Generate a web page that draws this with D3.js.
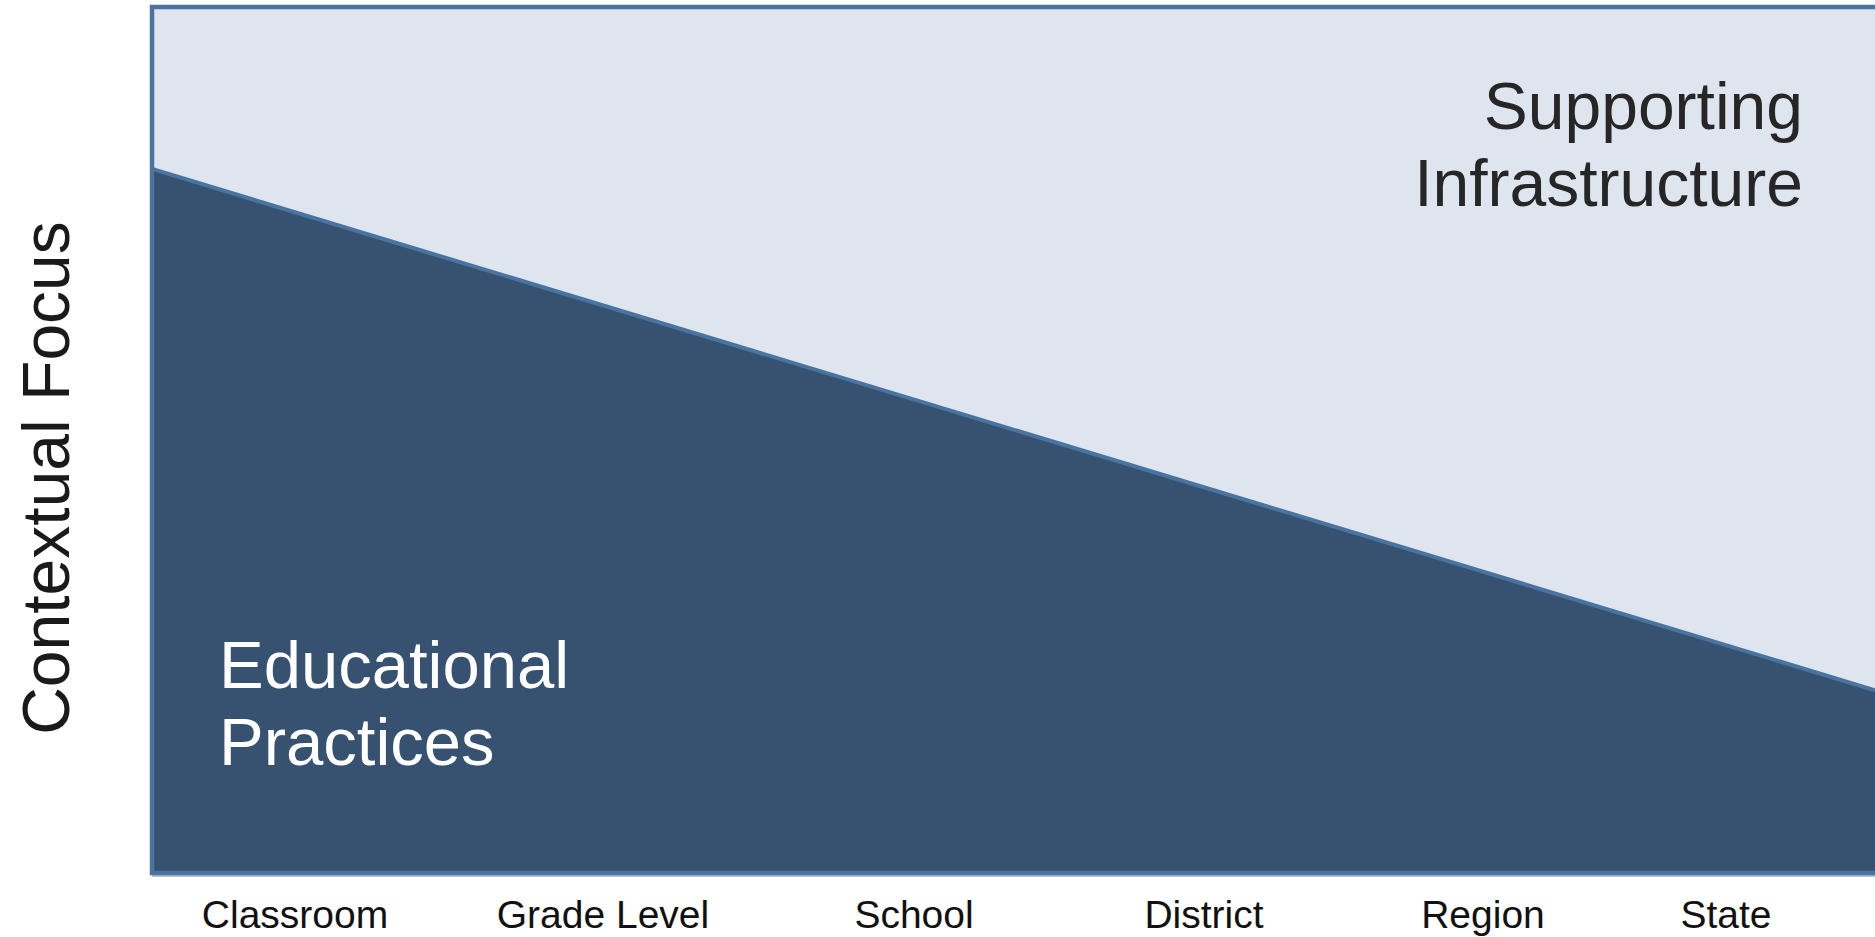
<!DOCTYPE html>
<html>
<head>
<meta charset="utf-8">
<script src="https://cdn.jsdelivr.net/npm/d3@7"></script>
<style>
  html, body { margin: 0; padding: 0; background: #fff; }
  svg { display: block; font-family: 'Liberation Sans', Arial, Helvetica, sans-serif; }
</style>
</head>
<body>
<div id="chart"></div>
<script>
// Levels of the system along the x axis
const levels = ['Classroom', 'Grade Level', 'School', 'District', 'Region', 'State'];

// Share of the contextual focus taken by educational practices,
// read at the left edge (0) and the right edge (1) of the visible plot
const boundaryPos = [0, 1];
const practicesShare = [0.813, 0.211];

const areaLabels = [
  { name: 'practices', lines: ['Educational', 'Practices'] },
  { name: 'infrastructure', lines: ['Supporting', 'Infrastructure'] },
];

const yLabel = 'Contextual Focus';

const width = 1875;
const height = 937;
const margin = { top: 7, right: 0, bottom: 64, left: 152 };

const lightFill = '#dfe5ee';
const darkFill = '#375270';
const edgeBlue = '#4a74a0';

const svg = d3.select('#chart')
  .append('svg')
  .attr('width', width)
  .attr('height', height);

const x = d3.scaleLinear()
  .domain([0, 1])
  .range([margin.left, width - margin.right]);

const y = d3.scaleLinear()
  .domain([0, 1])
  .range([height - margin.bottom, margin.top]);

// label centres are not evenly spaced in the original slide
const xLevel = d3.scaleOrdinal()
  .domain(levels)
  .range([295, 603, 914, 1204, 1483, 1726]);

const boundary = boundaryPos.map((p, i) => ({ pos: p, share: practicesShare[i] }));

// soft shadow under the plot
svg.append('line')
  .attr('x1', x(0))
  .attr('x2', x(1) + 10)
  .attr('y1', y(0) + 3)
  .attr('y2', y(0) + 3)
  .attr('stroke', '#9aa9bb')
  .attr('stroke-width', 1.5);

// background: supporting infrastructure
svg.append('rect')
  .attr('x', x(0))
  .attr('y', y(1))
  .attr('width', x(1) - x(0) + 10)
  .attr('height', y(0) - y(1))
  .attr('fill', lightFill);

// educational practices area
const area = d3.area()
  .x(d => x(d.pos))
  .y0(y(0))
  .y1(d => y(d.share));

svg.append('path')
  .datum(boundary)
  .attr('d', area)
  .attr('fill', darkFill);

// dividing line
svg.append('path')
  .datum(boundary)
  .attr('d', d3.line().x(d => x(d.pos)).y(d => y(d.share)))
  .attr('fill', 'none')
  .attr('stroke', edgeBlue)
  .attr('stroke-width', 4);

// frame (right side runs off the slide)
svg.append('rect')
  .attr('x', x(0))
  .attr('y', y(1))
  .attr('width', x(1) - x(0) + 10)
  .attr('height', y(0) - y(1))
  .attr('fill', 'none')
  .attr('stroke', edgeBlue)
  .attr('stroke-width', 4.5);

// x axis labels
svg.append('g')
  .selectAll('text')
  .data(levels)
  .join('text')
  .attr('x', d => xLevel(d))
  .attr('y', 928)
  .attr('text-anchor', 'middle')
  .attr('font-size', 39)
  .attr('fill', '#111')
  .text(d => d);

// y axis label
svg.append('text')
  .attr('transform', 'translate(69,478) rotate(-90)')
  .attr('text-anchor', 'middle')
  .attr('font-size', 66)
  .attr('fill', '#1a1a1a')
  .text(yLabel);

// area labels
const practices = areaLabels[0];
svg.append('text')
  .attr('x', 219)
  .attr('y', 688)
  .attr('font-size', 67)
  .attr('fill', '#fff')
  .selectAll('tspan')
  .data(practices.lines)
  .join('tspan')
  .attr('x', 219)
  .attr('dy', (d, i) => i === 0 ? 0 : 77)
  .text(d => d);

const infra = areaLabels[1];
svg.append('text')
  .attr('x', 1803)
  .attr('y', 129)
  .attr('font-size', 66)
  .attr('fill', '#262626')
  .attr('text-anchor', 'end')
  .selectAll('tspan')
  .data(infra.lines)
  .join('tspan')
  .attr('x', 1803)
  .attr('dy', (d, i) => i === 0 ? 0 : 77)
  .text(d => d);
</script>
</body>
</html>
